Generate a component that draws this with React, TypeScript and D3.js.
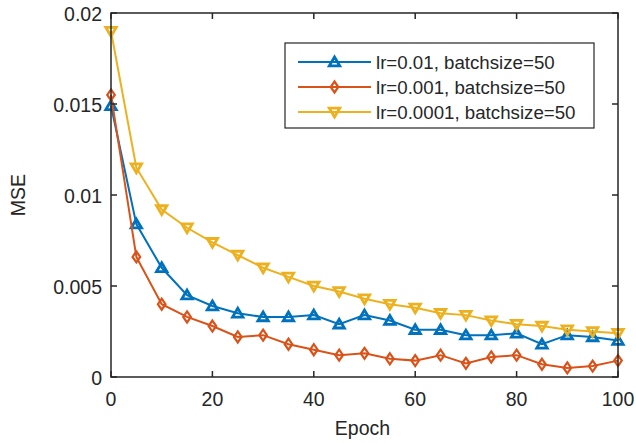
import React, { useEffect, useRef } from 'react';
import * as d3 from 'd3';

const epochs = [0, 5, 10, 15, 20, 25, 30, 35, 40, 45, 50, 55, 60, 65, 70, 75, 80, 85, 90, 95, 100];
const mseLr01 = [0.0149, 0.0084, 0.0060, 0.0045, 0.0039, 0.0035, 0.0033, 0.0033, 0.0034, 0.0029, 0.0034, 0.0031, 0.0026, 0.0026, 0.0023, 0.0023, 0.0024, 0.0018, 0.0023, 0.0022, 0.0020];
const mseLr001 = [0.0155, 0.0066, 0.0040, 0.0033, 0.0028, 0.0022, 0.0023, 0.0018, 0.0015, 0.0012, 0.0013, 0.0010, 0.0009, 0.0012, 0.00075, 0.0011, 0.0012, 0.0007, 0.0005, 0.0006, 0.0009];
const mseLr0001 = [0.0190, 0.0115, 0.0092, 0.0082, 0.0074, 0.0067, 0.0060, 0.0055, 0.0050, 0.0047, 0.0043, 0.0040, 0.0038, 0.0035, 0.0034, 0.0031, 0.0029, 0.0028, 0.0026, 0.0025, 0.0024];
const seriesNames = ['lr=0.01, batchsize=50', 'lr=0.001, batchsize=50', 'lr=0.0001, batchsize=50'];
const xTicks = [0, 20, 40, 60, 80, 100];
const yTicks = [0, 0.005, 0.01, 0.015, 0.02];
const yTickLabels = ['0', '0.005', '0.01', '0.015', '0.02'];

const W = 636, H = 443;
const axisColor = '#262626';
const font = 'Liberation Sans, Arial, Helvetica, sans-serif';

export default function App() {
  const ref = useRef<SVGSVGElement>(null);

  useEffect(() => {
    const svg = d3.select(ref.current);
    svg.selectAll('*').remove();

    const left = 111, right = 618, top = 13, bottom = 377;
    const x = d3.scaleLinear().domain([0, 100]).range([left, right]);
    const y = d3.scaleLinear().domain([0, 0.02]).range([bottom, top]);

    svg.append('rect').attr('width', W).attr('height', H).attr('fill', '#fff');

    const series = [
      { name: seriesNames[0], values: mseLr01, color: '#0072BD', marker: 'up' },
      { name: seriesNames[1], values: mseLr001, color: '#D95319', marker: 'diamond' },
      { name: seriesNames[2], values: mseLr0001, color: '#EDB120', marker: 'down' },
    ];

    // hollow markers with heavy edges, like MATLAB's
    const drawMarker = (g: any, kind: string, cx: number, cy: number, color: string) => {
      let d = '';
      let sw = 2.8;
      if (kind === 'up') d = `M${cx},${cy - 5}L${cx + 5.2},${cy + 3.8}L${cx - 5.2},${cy + 3.8}Z`;
      else if (kind === 'down') d = `M${cx},${cy + 5}L${cx + 5.2},${cy - 3.8}L${cx - 5.2},${cy - 3.8}Z`;
      else { d = `M${cx},${cy - 5.5}L${cx + 3.8},${cy}L${cx},${cy + 5.5}L${cx - 3.8},${cy}Z`; sw = 2.2; }
      g.append('path').attr('d', d).attr('fill', 'none').attr('stroke', color).attr('stroke-width', sw).attr('stroke-linejoin', 'miter');
    };

    const line = d3.line<number>().x((_, i) => x(epochs[i])).y(d => y(d));

    series.forEach(s => {
      const g = svg.append('g');
      g.append('path').attr('d', line(s.values)).attr('fill', 'none').attr('stroke', s.color).attr('stroke-width', 2);
      s.values.forEach((v, i) => drawMarker(g, s.marker, x(epochs[i]), y(v), s.color));
    });

    // box and ticks
    const ax = svg.append('g').attr('stroke', axisColor).attr('stroke-width', 1.5);
    ax.append('rect').attr('x', left).attr('y', top).attr('width', right - left).attr('height', bottom - top).attr('fill', 'none');
    xTicks.forEach(t => {
      ax.append('line').attr('x1', x(t)).attr('x2', x(t)).attr('y1', bottom).attr('y2', bottom - 6);
      ax.append('line').attr('x1', x(t)).attr('x2', x(t)).attr('y1', top).attr('y2', top + 6);
    });
    yTicks.forEach(t => {
      ax.append('line').attr('x1', left).attr('x2', left + 6).attr('y1', y(t)).attr('y2', y(t));
      ax.append('line').attr('x1', right).attr('x2', right - 6).attr('y1', y(t)).attr('y2', y(t));
    });

    const txt = svg.append('g').attr('font-family', font).attr('font-size', 19.5).attr('fill', axisColor);
    xTicks.forEach(t => {
      txt.append('text').attr('x', x(t)).attr('y', 406).attr('text-anchor', 'middle').text(String(t));
    });
    yTicks.forEach((t, i) => {
      txt.append('text').attr('x', left - 9).attr('y', y(t)).attr('dy', '0.4em').attr('text-anchor', 'end').text(yTickLabels[i]);
    });
    txt.append('text').attr('x', (left + right) / 2 - 2).attr('y', 435).attr('text-anchor', 'middle').text('Epoch');
    txt.append('text').attr('transform', `translate(25,${(top + bottom) / 2}) rotate(-90)`).attr('text-anchor', 'middle').text('MSE');

    // legend
    const lg = svg.append('g');
    lg.append('rect').attr('x', 285).attr('y', 43).attr('width', 309).attr('height', 85)
      .attr('fill', '#fff').attr('stroke', axisColor).attr('stroke-width', 1.2);
    series.forEach((s, i) => {
      const ly = 62 + i * 25;
      lg.append('line').attr('x1', 298).attr('x2', 371).attr('y1', ly).attr('y2', ly).attr('stroke', s.color).attr('stroke-width', 2);
      drawMarker(lg, s.marker, 334.5, ly, s.color);
      lg.append('text').attr('x', 376).attr('y', ly).attr('dy', '0.36em').attr('font-family', font).attr('font-size', 18.7)
        .attr('fill', axisColor).text(s.name);
    });
  }, []);

  return <svg ref={ref} width={W} height={H} style={{ display: 'block', position: 'absolute', left: 0, top: 0 }} />;
}
